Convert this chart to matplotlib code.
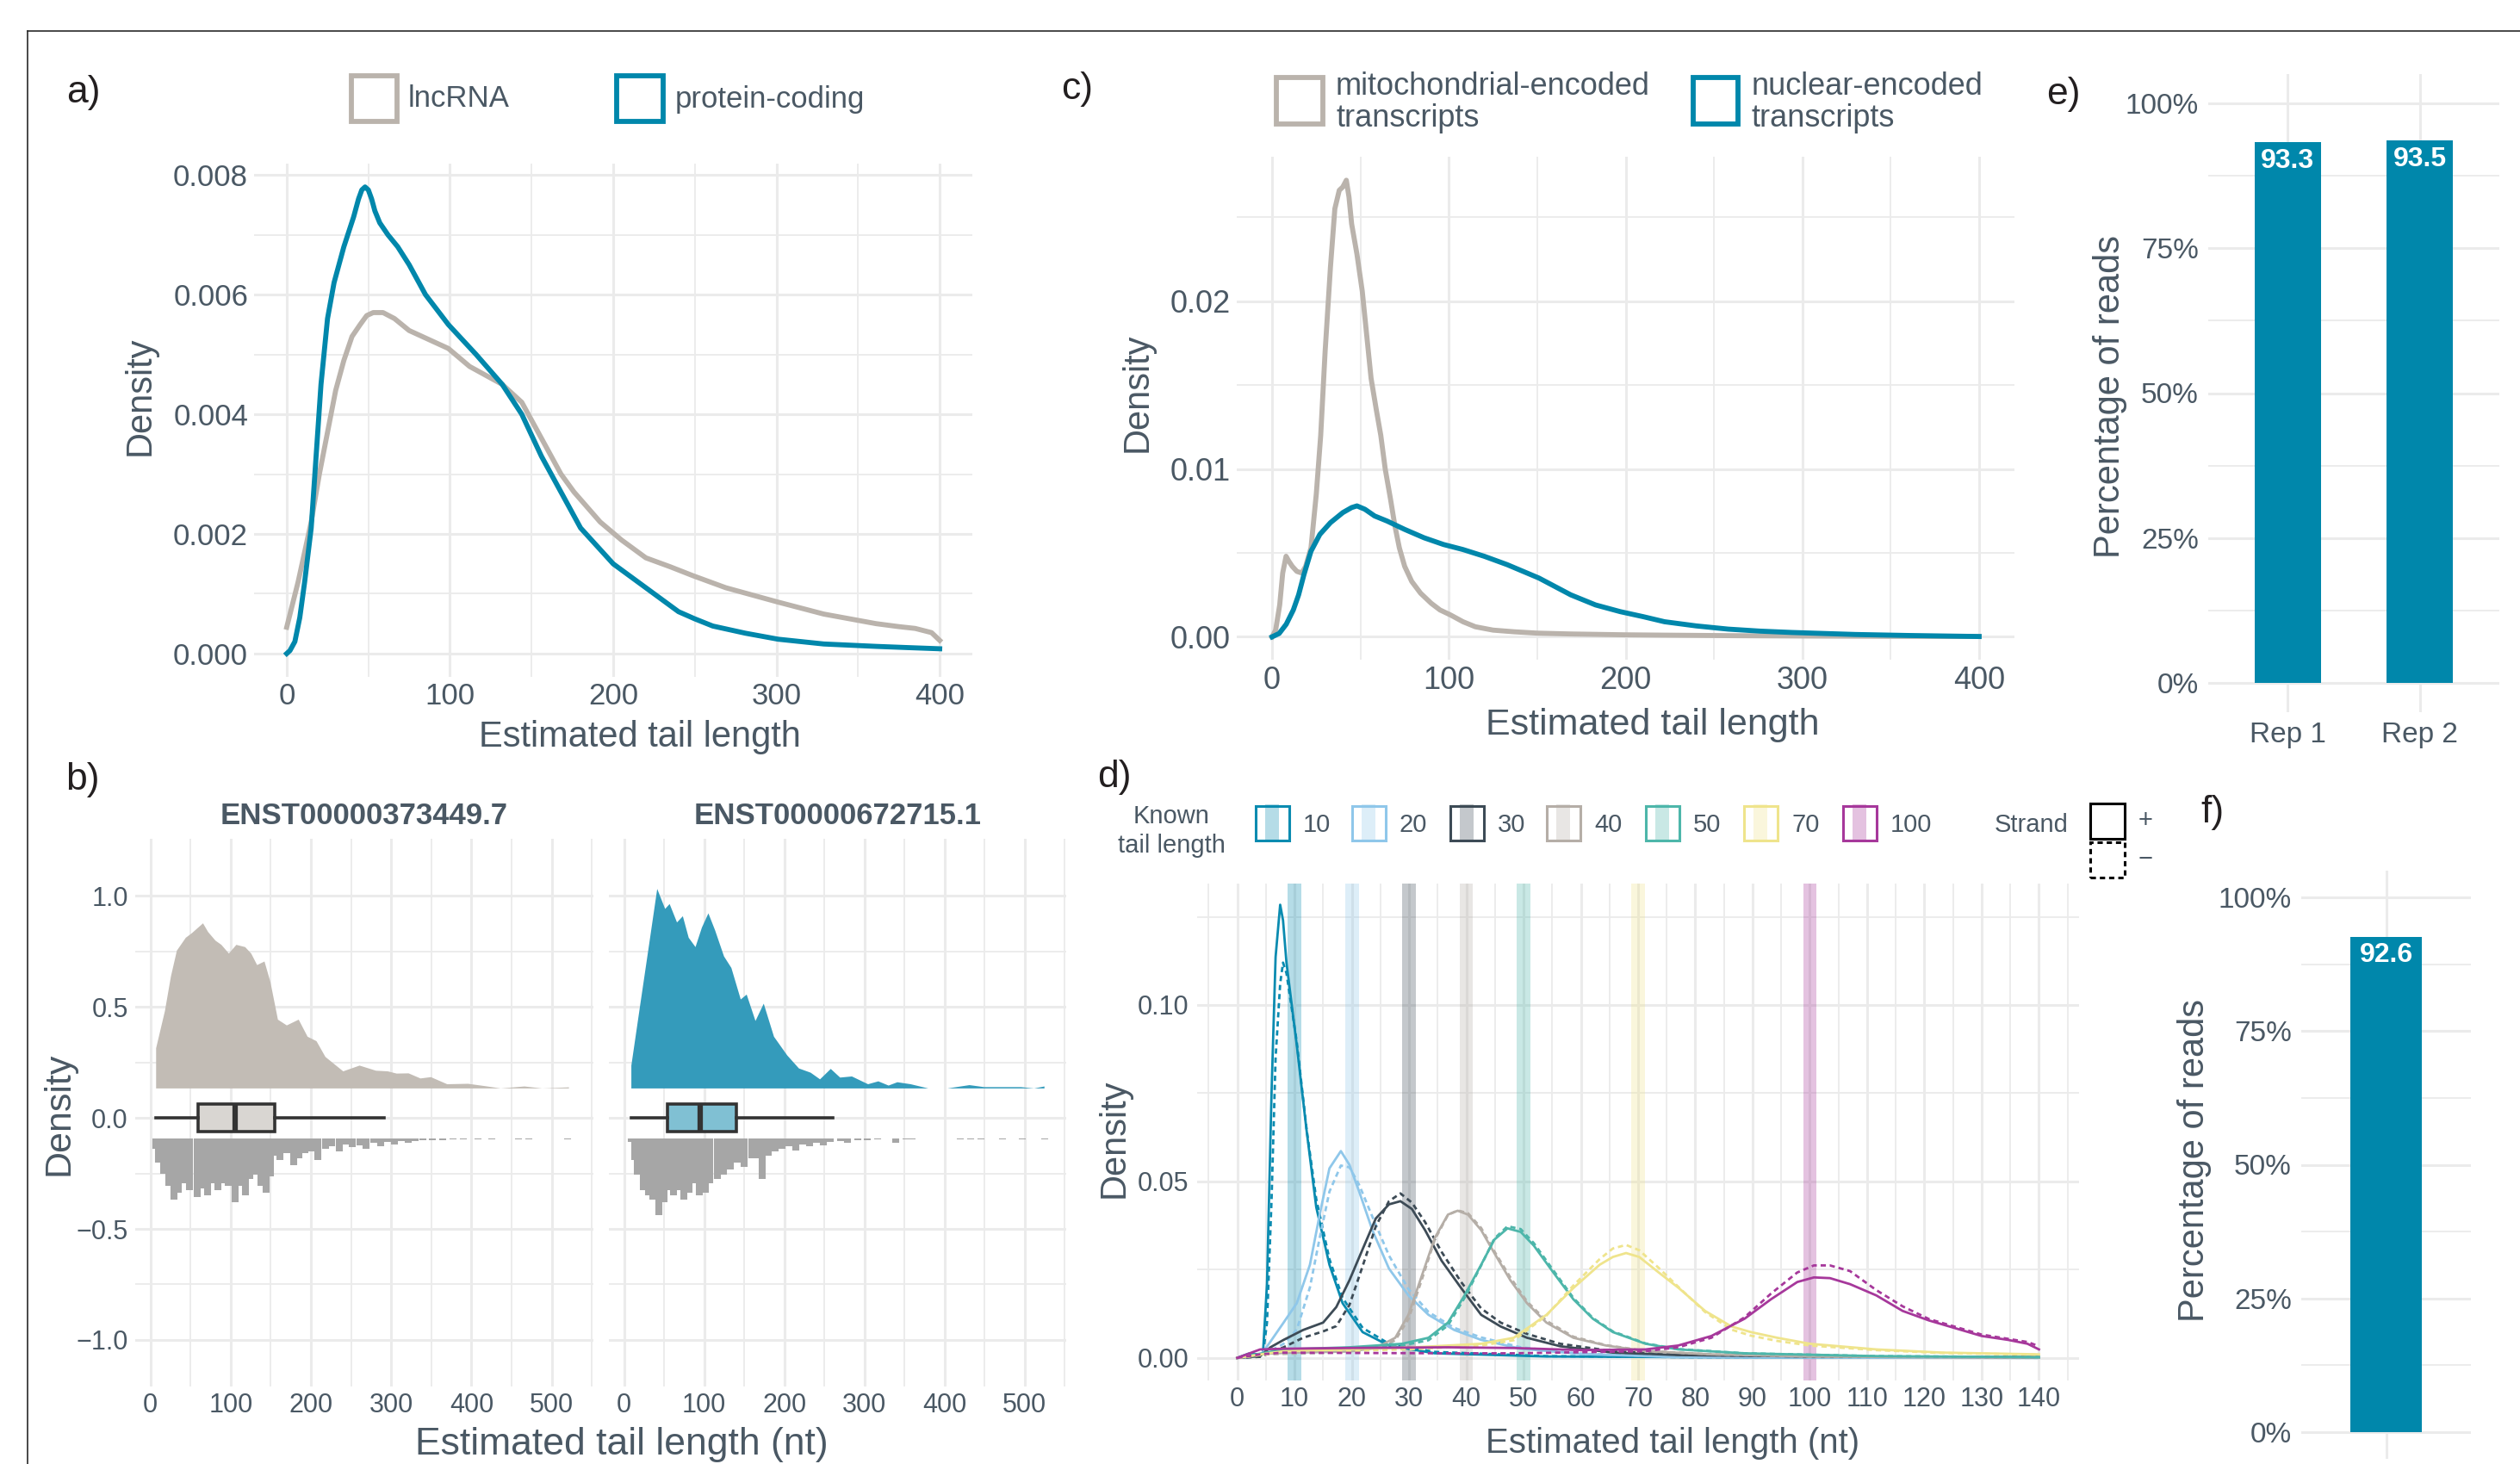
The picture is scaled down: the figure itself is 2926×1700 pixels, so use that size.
import matplotlib
matplotlib.use('Agg')
import matplotlib.pyplot as plt
from matplotlib.patches import Rectangle
from matplotlib.lines import Line2D
from matplotlib.ticker import MultipleLocator, FixedLocator, FuncFormatter

plt.rcParams['font.family'] = ['Liberation Sans', 'DejaVu Sans']

W, H = 2926, 1700
TXT = '#4a5864'
GRID = '#ebebeb'
TEAL = '#0087ab'
GREY = '#bab3ac'

# ---- panel a: lncRNA vs protein-coding
a_x_lnc = [0, 7, 15, 20, 25, 30, 35, 40, 45, 49, 53, 59, 66, 75, 87, 99, 112, 122, 132, 144,
           152, 160, 168, 176, 184, 192, 205, 220, 235, 249, 269, 285, 301, 315, 329, 345,
           361, 375, 385, 395, 400]
a_y_lnc = [0.00044, 0.0012, 0.0022, 0.0030, 0.0037, 0.0044, 0.0049, 0.0053, 0.0055, 0.00565,
           0.0057, 0.0057, 0.0056, 0.0054, 0.00525, 0.0051, 0.0048, 0.00465, 0.0045, 0.0042,
           0.0038, 0.0034, 0.0030, 0.0027, 0.00245, 0.0022, 0.0019, 0.0016, 0.00145, 0.0013,
           0.0011, 0.00098, 0.00086, 0.00076, 0.00066, 0.00058, 0.0005, 0.00045, 0.00042,
           0.00035, 0.00022]
a_x_pc = [0, 2, 5, 8, 11, 15, 18, 21, 25, 29, 35, 41, 44, 46, 48, 50, 52, 54, 57, 62, 68, 75,
          85, 99, 116, 132, 144, 156, 168, 180, 190, 200, 210, 220, 230, 240, 250, 261, 271,
          281, 291, 301, 315, 329, 345, 361, 380, 400]
a_y_pc = [0.0, 0.00005, 0.0002, 0.0006, 0.0012, 0.0021, 0.0033, 0.0045, 0.0056, 0.0062,
          0.0068, 0.0073, 0.0076, 0.00775, 0.0078, 0.00775, 0.0076, 0.0074, 0.0072, 0.0070,
          0.0068, 0.0065, 0.0060, 0.0055, 0.0050, 0.0045, 0.0040, 0.0033, 0.0027, 0.0021,
          0.0018, 0.0015, 0.0013, 0.0011, 0.0009, 0.0007, 0.00058, 0.00046, 0.0004, 0.00034,
          0.00029, 0.00024, 0.0002, 0.00016, 0.00014, 0.00012, 0.0001, 0.00008]

# ---- panel c: mitochondrial vs nuclear
c_x_mito = [0, 2, 4.3, 6, 7.9, 9.5, 11.4, 14, 16.8, 19, 22, 25, 27.5, 30, 33, 35.5, 38, 40, 42,
            43.5, 45, 48, 51, 53.5, 56, 59, 61.5, 64, 67, 69.5, 72, 75, 79, 84, 90, 95, 101,
            108, 115, 125, 137, 150, 169, 200, 222, 260, 300, 350, 400]
c_y_mito = [0.0, 0.0004, 0.0019, 0.0038, 0.0048, 0.0045, 0.0042, 0.0039, 0.0038, 0.0042,
            0.0053, 0.0085, 0.012, 0.017, 0.022, 0.0255, 0.0266, 0.0268, 0.0272, 0.0262,
            0.0246, 0.0228, 0.0206, 0.018, 0.0154, 0.0135, 0.012, 0.010, 0.0082, 0.0066,
            0.0053, 0.0042, 0.0033, 0.0026, 0.0020, 0.0016, 0.0013, 0.0009, 0.0006, 0.0004,
            0.0003, 0.00022, 0.00017, 0.00012, 0.0001, 0.00007, 0.00005, 0.00003, 0.00002]
c_x_nuc = [0, 4, 8, 12, 15, 18, 22, 27, 33, 40, 45, 48, 52.5, 58, 65, 75, 86, 97, 108, 120,
           133, 142, 151, 160, 169, 183, 197, 210, 222, 240, 258, 276, 294, 312, 330, 360, 400]
c_y_nuc = [0.0, 0.0002, 0.00075, 0.0016, 0.0025, 0.0037, 0.0051, 0.0061, 0.0068, 0.0074,
           0.0077, 0.0078, 0.0076, 0.0072, 0.0069, 0.0064, 0.0059, 0.0055, 0.0052, 0.0048,
           0.0043, 0.0039, 0.0035, 0.0030, 0.0025, 0.0019, 0.0015, 0.0012, 0.0009, 0.00065,
           0.00046, 0.00034, 0.00026, 0.0002, 0.00014, 0.00008, 0.00002]

# ---- panel b: two transcripts (density ridge, boxplot, dots)
b_titles = ['ENST00000373449.7', 'ENST00000672715.1']
b1_ridge_x = [6.5, 6.5, 17.5, 25, 32.4, 43.5, 50.9, 65, 71.3, 80.5, 87.9, 97.2, 106.5, 117.5,
              125, 132.4, 141.6, 149, 158.3, 169.4, 184.2, 195.3, 206.4, 217.5, 239.7, 260.1,
              280.4, 295.3, 306.3, 321.2, 336, 349, 369.3, 395.3, 417.4, 436, 465.6, 487.8, 521]
b1_ridge_y = [0.135, 0.316, 0.484, 0.64, 0.756, 0.814, 0.834, 0.879, 0.84, 0.801, 0.782, 0.743,
              0.782, 0.772, 0.743, 0.691, 0.707, 0.614, 0.445, 0.419, 0.445, 0.368, 0.348,
              0.277, 0.212, 0.238, 0.215, 0.212, 0.202, 0.203, 0.18, 0.186, 0.154, 0.156,
              0.145, 0.135, 0.144, 0.135, 0.14]
b2_ridge_x = [8.5, 8.5, 19.5, 30.6, 40.8, 50.7, 56.3, 65.5, 72.8, 80.1, 88.6, 96.6, 104.7,
              113.1, 124.2, 133.4, 145.1, 152.5, 163.5, 173.8, 186.6, 203.1, 217.8, 232.4,
              244.1, 257.5, 269.2, 283.9, 304.1, 316.9, 329.7, 340.7, 357.3, 379.3, 403.2,
              430.7, 449, 471.1, 495, 511.5, 524.3]
b2_ridge_y = [0.135, 0.238, 0.51, 0.782, 1.034, 0.944, 0.966, 0.883, 0.911, 0.814, 0.772,
              0.86, 0.924, 0.847, 0.73, 0.678, 0.536, 0.558, 0.439, 0.517, 0.368, 0.284, 0.225,
              0.206, 0.176, 0.223, 0.184, 0.189, 0.154, 0.167, 0.148, 0.163, 0.154, 0.135,
              0.135, 0.15, 0.141, 0.141, 0.141, 0.135, 0.144]
b_ridge_base = 0.135
b1_box = [6.5, 59, 105, 154.5, 291]      # whislo, q1, med, q3, whishi
b2_box = [8.5, 54.4, 95.5, 139.7, 261]
b1_dot_x = [7, 10, 16, 23, 29, 35, 41, 49, 58, 64, 71, 78, 84, 90, 97, 105, 112, 118, 124, 131,
            138, 144, 149, 153, 161, 170, 179, 185, 192, 200, 209, 218, 226, 235, 244, 252,
            261, 269, 278, 287, 295, 304, 313, 321, 330, 340, 351, 364, 377, 390, 408, 425,
            459, 472, 520]
b1_dot_y = [-0.139, -0.2, -0.25, -0.306, -0.368, -0.337, -0.295, -0.326, -0.358, -0.316,
            -0.347, -0.295, -0.326, -0.295, -0.306, -0.378, -0.306, -0.347, -0.274, -0.254,
            -0.306, -0.337, -0.264, -0.17, -0.191, -0.16, -0.212, -0.181, -0.16, -0.15,
            -0.191, -0.139, -0.129, -0.15, -0.118, -0.133, -0.125, -0.139, -0.112, -0.129,
            -0.108, -0.118, -0.104, -0.112, -0.104, -0.1, -0.1, -0.1, -0.096, -0.096,
            -0.096, -0.096, -0.096, -0.096, -0.096]
b2_dot_x = [8.6, 13, 17, 24, 30, 36, 43, 50, 56, 62, 69, 75, 81, 87, 94, 101, 107, 116, 124,
            133, 141, 150, 159, 167, 172, 180, 189, 197, 206, 214, 223, 232, 240, 249, 257,
            270, 279, 292, 304, 317, 339, 352, 360, 420, 433, 446, 472, 497, 525]
b2_dot_y = [-0.108, -0.191, -0.254, -0.326, -0.347, -0.368, -0.437, -0.378, -0.326, -0.347,
            -0.326, -0.368, -0.337, -0.295, -0.347, -0.337, -0.295, -0.274, -0.254, -0.233,
            -0.2, -0.222, -0.181, -0.181, -0.274, -0.17, -0.15, -0.139, -0.129, -0.146,
            -0.118, -0.129, -0.112, -0.125, -0.108, -0.104, -0.112, -0.1, -0.1, -0.096,
            -0.112, -0.096, -0.096, -0.096, -0.096, -0.096, -0.096, -0.096, -0.096]
b_dot_top = -0.091

# ---- panel d: known tail lengths, + strand (solid) and - strand (dashed)
known_lengths = [10, 20, 30, 40, 50, 70, 100]
known_colors = ['#0a8bb0', '#8fc7ea', '#3d4b56', '#b5aea7', '#4db6aa', '#efe48c', '#a6389b']
k10_x = [0, 2, 4, 4.5, 5.2, 6.0, 6.7, 7.5, 8.0, 8.6, 10.4, 12.1, 13.8, 16.1, 18.4, 21.9, 26.5,
         34.5, 54, 80, 110, 140]
k10_plus = [0, 0.0012, 0.0010, 0.0013, 0.021, 0.0755, 0.1136, 0.1284, 0.124, 0.112, 0.0886,
            0.0646, 0.0427, 0.0264, 0.0155, 0.0073, 0.0035, 0.0013, 0.0004, 0.0002, 0.0001,
            0.0001]
k10_minus = [0, 0.0008, 0.0008, 0.0010, 0.010, 0.045, 0.085, 0.106, 0.112, 0.109, 0.0895,
             0.0650, 0.0450, 0.0280, 0.0170, 0.0085, 0.0040, 0.0017, 0.0005, 0.0002, 0.0001,
             0.0001]
k20_x = [0, 4, 5.8, 8.1, 10.4, 12.7, 14.4, 16.1, 18.1, 19.6, 21.3, 23.6, 26.5, 29.9, 33.4,
         37.9, 42.6, 49.5, 60, 77, 100, 140]
k20_plus = [0, 0.0005, 0.0046, 0.010, 0.0155, 0.0264, 0.0406, 0.0537, 0.0586, 0.0547, 0.0471,
            0.0362, 0.0253, 0.0177, 0.0122, 0.0079, 0.0051, 0.0026, 0.0011, 0.0002, 0.0001, 0]
k20_minus = [0, 0.0004, 0.002, 0.004, 0.008, 0.020, 0.0340, 0.0471, 0.0545, 0.0540, 0.0490,
             0.0400, 0.0290, 0.0195, 0.0130, 0.0085, 0.0058, 0.0030, 0.0012, 0.0003, 0.0001, 0]
k30_x = [0, 4, 5.8, 8.1, 11.5, 15, 17.3, 19.6, 21.9, 24.2, 26.5, 28.5, 30.5, 32.8, 35.7, 39.1,
         42.6, 46, 50.6, 56.4, 65.6, 77, 100, 140]
k30_plus = [0, 0.0005, 0.003, 0.0051, 0.0079, 0.010, 0.0144, 0.022, 0.0308, 0.0395, 0.0435,
            0.0444, 0.0422, 0.0362, 0.0275, 0.0198, 0.0122, 0.0089, 0.0057, 0.0033, 0.0015,
            0.0008, 0.0004, 0.0002]
k30_minus = [0, 0.0003, 0.0015, 0.003, 0.0057, 0.0075, 0.0090, 0.0150, 0.0260, 0.0373, 0.0444,
             0.0466, 0.0440, 0.0385, 0.0300, 0.0215, 0.0140, 0.0100, 0.0068, 0.0040, 0.0019,
             0.0009, 0.0004, 0.0002]
k40_x = [0, 5, 10, 19.6, 24.2, 27.6, 29.9, 32.2, 34.5, 36.8, 38.5, 40.3, 42.6, 44.9, 47.7,
         50.6, 54, 58.7, 64.4, 71.3, 82.8, 100, 120, 140]
k40_plus = [0, 0.0012, 0.0015, 0.0018, 0.0028, 0.0057, 0.0122, 0.0231, 0.034, 0.0406, 0.0417,
            0.0406, 0.0362, 0.0297, 0.022, 0.0155, 0.010, 0.0057, 0.0035, 0.0019, 0.001,
            0.0004, 0.0002, 0.0001]
k40_minus = [0, 0.0010, 0.0012, 0.0016, 0.0025, 0.0050, 0.0110, 0.0220, 0.0335, 0.0405,
             0.0418, 0.0410, 0.0368, 0.0302, 0.0228, 0.0160, 0.0105, 0.0060, 0.0036, 0.0020,
             0.0010, 0.0004, 0.0002, 0.0001]
k50_x = [0, 5, 8.1, 19.6, 28.8, 33.4, 36.8, 39.7, 42.6, 44.9, 47.2, 49.5, 51.8, 55.2, 58.7,
         62.1, 65.6, 71.3, 77, 88.6, 111.6, 140]
k50_plus = [0, 0.0015, 0.0024, 0.003, 0.004, 0.0057, 0.010, 0.0177, 0.0264, 0.0335, 0.0367,
            0.0357, 0.0318, 0.0242, 0.0166, 0.0111, 0.0073, 0.004, 0.0024, 0.0013, 0.0005,
            0.0002]
k50_minus = [0, 0.0012, 0.0020, 0.0026, 0.0035, 0.0050, 0.0092, 0.0170, 0.0262, 0.0338,
             0.0373, 0.0365, 0.0325, 0.0248, 0.0170, 0.0113, 0.0075, 0.0041, 0.0025, 0.0013,
             0.0005, 0.0002]
k70_x = [0, 5, 8.1, 31, 42.6, 48.3, 54, 58.7, 63.3, 65.6, 67.9, 70.2, 73.6, 77.1, 81.7, 86.3,
         89.7, 94.3, 100, 111.6, 123, 140]
k70_plus = [0, 0.0012, 0.0019, 0.003, 0.004, 0.0057, 0.0122, 0.0198, 0.0264, 0.0286, 0.0297,
            0.0286, 0.0242, 0.0198, 0.0133, 0.0089, 0.0073, 0.0057, 0.004, 0.0024, 0.0015,
            0.001]
k70_minus = [0, 0.0010, 0.0015, 0.0025, 0.0035, 0.0050, 0.0120, 0.0205, 0.0280, 0.0310,
             0.0320, 0.0305, 0.0255, 0.0200, 0.0130, 0.0080, 0.0063, 0.0048, 0.0035, 0.0022,
             0.0014, 0.0009]
k100_x = [0, 4, 8.1, 19.6, 36.8, 48.3, 60, 71.3, 77, 82.8, 88.6, 93.2, 97.8, 100.7, 103.5,
          107, 111.6, 116.2, 120.8, 125.4, 130, 134.6, 138, 140]
k100_plus = [0, 0.0024, 0.0026, 0.0028, 0.003, 0.0028, 0.0022, 0.0024, 0.0035, 0.0062,
             0.0111, 0.0166, 0.0215, 0.0228, 0.0226, 0.0209, 0.0177, 0.0133, 0.0106, 0.0084,
             0.0062, 0.0051, 0.004, 0.0024]
k100_minus = [0, 0.0010, 0.0015, 0.0014, 0.0013, 0.0013, 0.0016, 0.0019, 0.0030, 0.0057,
              0.0115, 0.0182, 0.0242, 0.0262, 0.0262, 0.0246, 0.0192, 0.0146, 0.0110, 0.0088,
              0.0066, 0.0054, 0.0045, 0.0033]

# ---- panels e, f: percentage of reads
e_reps = ['Rep 1', 'Rep 2']
e_pct = [93.3, 93.5]
f_pct = [92.6]


fig = plt.figure(figsize=(W / 100, H / 100), dpi=100)


def axes_px(x0, y0, x1, y1):
    return fig.add_axes([x0 / W, 1 - y1 / H, (x1 - x0) / W, (y1 - y0) / H])


def ftext(x, y, s, **kw):
    kw.setdefault('color', TXT)
    return fig.text(x / W, 1 - y / H, s, **kw)


def frect(x0, y0, x1, y1, **kw):
    r = Rectangle((x0 / W, 1 - y1 / H), (x1 - x0) / W, (y1 - y0) / H,
                  transform=fig.transFigure, **kw)
    fig.add_artist(r)
    return r


def minimal(ax, fs, pad_x, pad_y):
    for s in ax.spines.values():
        s.set_visible(False)
    ax.tick_params(which='both', length=0, labelsize=fs, labelcolor=TXT)
    ax.tick_params(axis='x', pad=pad_x)
    ax.tick_params(axis='y', pad=pad_y)
    ax.grid(True, which='major', color=GRID, lw=2.2)
    ax.grid(True, which='minor', color=GRID, lw=1.3)
    ax.set_axisbelow(True)


# frame around the figure
fig.add_artist(Line2D([32 / W, 32 / W], [0, 1 - 36 / H], transform=fig.transFigure,
                      color='#2a2a2a', lw=1.2))
fig.add_artist(Line2D([32 / W, 1], [1 - 36 / H, 1 - 36 / H], transform=fig.transFigure,
                      color='#2a2a2a', lw=1.2))

# ================= panel a
ax = axes_px(295, 190, 1129, 786)
ax.plot(a_x_lnc, a_y_lnc, color=GREY, lw=4.2, solid_joinstyle='round')
ax.plot(a_x_pc, a_y_pc, color=TEAL, lw=4.2, solid_joinstyle='round')
ax.set_xlim(-20, 420)
ax.set_ylim(-0.00039, 0.00819)
ax.xaxis.set_major_locator(MultipleLocator(100))
ax.xaxis.set_minor_locator(MultipleLocator(50))
ax.yaxis.set_major_locator(MultipleLocator(0.002))
ax.yaxis.set_minor_locator(MultipleLocator(0.001))
ax.yaxis.set_major_formatter(FuncFormatter(lambda v, p: f'{v:.3f}'))
minimal(ax, 25, 4, 5)
ax.set_xlabel('Estimated tail length', fontsize=30, color=TXT, va='center')
ax.xaxis.set_label_coords(0.537, -0.1174)
ax.set_ylabel('Density', fontsize=30, color=TXT, va='center')
ax.yaxis.set_label_coords(-0.1583, 0.547)

ftext(97, 107, 'a)', fontsize=32, color='#231f20', ha='center', va='center')
frect(408, 88, 461, 141, fill=False, edgecolor=GREY, lw=4.2)
ftext(474, 115, 'lncRNA', fontsize=25, va='center')
frect(716, 88, 770, 141, fill=False, edgecolor=TEAL, lw=4.2)
ftext(784, 115, 'protein-coding', fontsize=25, va='center')

# ================= panel c
ax = axes_px(1436, 182, 2339, 766)
ax.plot(c_x_mito, c_y_mito, color=GREY, lw=4.2, solid_joinstyle='round')
ax.plot(c_x_nuc, c_y_nuc, color=TEAL, lw=4.2, solid_joinstyle='round')
ax.set_xlim(-20, 420)
ax.set_ylim(-0.00136, 0.0286)
ax.xaxis.set_major_locator(MultipleLocator(100))
ax.xaxis.set_minor_locator(MultipleLocator(50))
ax.yaxis.set_major_locator(MultipleLocator(0.01))
ax.yaxis.set_minor_locator(MultipleLocator(0.005))
ax.yaxis.set_major_formatter(FuncFormatter(lambda v, p: f'{v:.2f}'))
minimal(ax, 26, 5, 5)
ax.set_xlabel('Estimated tail length', fontsize=31, color=TXT, va='center')
ax.xaxis.set_label_coords(0.535, -0.130)
ax.set_ylabel('Density', fontsize=30, color=TXT, va='center')
ax.yaxis.set_label_coords(-0.1274, 0.531)

ftext(1251, 104, 'c)', fontsize=32, color='#231f20', ha='center', va='center')
frect(1482, 90, 1536, 144, fill=False, edgecolor=GREY, lw=4.2)
ftext(1551, 119, 'mitochondrial-encoded\ntranscripts', fontsize=26, va='center',
      linespacing=1.1)
frect(1966, 90, 2018, 144, fill=False, edgecolor=TEAL, lw=4.2)
ftext(2034, 119, 'nuclear-encoded\ntranscripts', fontsize=26, va='center', linespacing=1.1)

# ================= panel e
ax = axes_px(2564, 86, 2902, 827)
ax.bar(e_reps, e_pct, width=0.5, color=TEAL)
for i, v in enumerate(e_pct):
    ax.text(i, v - 1.0, f'{v}', ha='center', va='top', color='white', fontsize=23,
            fontweight='bold')
ax.set_xlim(-0.6, 1.6)
ax.set_ylim(-5, 105)
ax.yaxis.set_major_locator(FixedLocator([0, 25, 50, 75, 100]))
ax.yaxis.set_minor_locator(FixedLocator([12.5, 37.5, 62.5, 87.5]))
ax.yaxis.set_major_formatter(FuncFormatter(lambda v, p: f'{v:.0f}%'))
minimal(ax, 24, 8, 8)
ax.set_ylabel('Percentage of reads', fontsize=30, color=TXT, va='center')
ax.yaxis.set_label_coords(-0.337, 0.494)
ftext(2396, 109, 'e)', fontsize=32, color='#231f20', ha='center', va='center')

# ================= panel f
ax = axes_px(2672, 1011, 2869, 1694)
ax.bar([0], f_pct, width=0.5, color=TEAL)
ax.text(0, f_pct[0] - 1.0, f'{f_pct[0]}', ha='center', va='top', color='white',
        fontsize=23, fontweight='bold')
ax.set_xlim(-0.6, 0.6)
ax.set_ylim(-5, 105)
ax.set_xticks([0])
ax.set_xticklabels([''])
ax.yaxis.set_major_locator(FixedLocator([0, 25, 50, 75, 100]))
ax.yaxis.set_minor_locator(FixedLocator([12.5, 37.5, 62.5, 87.5]))
ax.yaxis.set_major_formatter(FuncFormatter(lambda v, p: f'{v:.0f}%'))
minimal(ax, 24, 8, 8)
ax.set_ylabel('Percentage of reads', fontsize=30, color=TXT, va='center')
ax.yaxis.set_label_coords(-0.629, 0.507)
ftext(2569, 943, 'f)', fontsize=32, color='#231f20', ha='center', va='center')

# ================= panel b
b_sets = [
    (157, 689, b1_ridge_x, b1_ridge_y, b1_box, b1_dot_x, b1_dot_y, '#c2bcb5', '#d9d6d2'),
    (707, 1238, b2_ridge_x, b2_ridge_y, b2_box, b2_dot_x, b2_dot_y, '#349bbb', '#80c0d3'),
]
for k, (x0, x1, rx, ry, bx, dx, dy, fill_c, box_c) in enumerate(b_sets):
    ax = axes_px(x0, 974, x1, 1610)
    ax.fill_between(rx, b_ridge_base, ry, color=fill_c, lw=0)
    ax.vlines(dx, b_dot_top, dy, color='#a6a6a6', lw=5.8)
    stats = [dict(whislo=bx[0], q1=bx[1], med=bx[2], q3=bx[3], whishi=bx[4], fliers=[])]
    ax.bxp(stats, positions=[0], widths=0.122, vert=False, patch_artist=True,
           showcaps=False, showfliers=False,
           boxprops=dict(facecolor=box_c, edgecolor='#333333', lw=2.6),
           whiskerprops=dict(color='#333333', lw=2.6),
           medianprops=dict(color='#333333', lw=4.5))
    ax.set_xlim(-19, 552)
    ax.set_ylim(-1.21, 1.258)
    ax.xaxis.set_major_locator(MultipleLocator(100))
    ax.xaxis.set_minor_locator(MultipleLocator(50))
    ax.yaxis.set_major_locator(FixedLocator([-1.0, -0.5, 0.0, 0.5, 1.0]))
    ax.yaxis.set_minor_locator(FixedLocator([-0.75, -0.25, 0.25, 0.75]))
    ax.set_xticks([0, 100, 200, 300, 400, 500])
    ax.set_xticklabels(['0', '100', '200', '300', '400', '500'])
    if k == 0:
        ax.set_yticks([-1.0, -0.5, 0.0, 0.5, 1.0])
        ax.set_yticklabels(['\u22121.0', '\u22120.5', '0.0', '0.5', '1.0'])
        ax.set_ylabel('Density', fontsize=31, color=TXT, va='center')
        ax.yaxis.set_label_coords(-0.167, 0.498)
    else:
        ax.set_yticks([-1.0, -0.5, 0.0, 0.5, 1.0])
        ax.set_yticklabels([])
    minimal(ax, 22, 5, 6)
    ax.text(0.5, 1.041, b_titles[k], transform=ax.transAxes, ha='center', va='center',
            fontsize=25, fontweight='bold', color=TXT)
ftext(722, 1677, 'Estimated tail length (nt)', fontsize=32, ha='center', va='center')
ftext(96, 906, 'b)', fontsize=32, color='#231f20', ha='center', va='center')

# ================= panel d
ax = axes_px(1390, 1026, 2414, 1603)
d_x = [k10_x, k20_x, k30_x, k40_x, k50_x, k70_x, k100_x]
d_plus = [k10_plus, k20_plus, k30_plus, k40_plus, k50_plus, k70_plus, k100_plus]
d_minus = [k10_minus, k20_minus, k30_minus, k40_minus, k50_minus, k70_minus, k100_minus]
for kl, c in zip(known_lengths, known_colors):
    ax.axvspan(kl - 1.2, kl + 1.2, color=c, alpha=0.3, lw=0)
for xs, yp, ym, c in zip(d_x, d_plus, d_minus, known_colors):
    ax.plot(xs, ym, color=c, lw=2.0, ls=(0, (2.2, 1.6)))
    ax.plot(xs, yp, color=c, lw=2.0, solid_joinstyle='round')
ax.set_xlim(-7, 147)
ax.set_ylim(-0.0064, 0.1344)
ax.xaxis.set_major_locator(MultipleLocator(10))
ax.xaxis.set_minor_locator(MultipleLocator(5))
ax.yaxis.set_major_locator(MultipleLocator(0.05))
ax.yaxis.set_minor_locator(MultipleLocator(0.025))
ax.yaxis.set_major_formatter(FuncFormatter(lambda v, p: f'{v:.2f}'))
minimal(ax, 22, 5, 7)
ax.set_xlabel('Estimated tail length (nt)', fontsize=29, color=TXT, va='center')
ax.xaxis.set_label_coords(0.539, -0.1265)
ax.set_ylabel('Density', fontsize=30, color=TXT, va='center')
ax.yaxis.set_label_coords(-0.094, 0.487)

ftext(1294, 903, 'd)', fontsize=32, color='#231f20', ha='center', va='center')
ftext(1360, 965, 'Known\ntail length', fontsize=21, ha='center', va='center',
      linespacing=1.25)
key_x0 = [1456, 1568, 1682, 1794, 1909, 2023, 2138]
for kl, c, kx in zip(known_lengths, known_colors, key_x0):
    frect(kx + 13, 934, kx + 29, 977, facecolor=c, alpha=0.3, lw=0)
    frect(kx + 1.5, 935.5, kx + 40.5, 975.5, fill=False, edgecolor=c, lw=2.2)
    ftext(kx + 57, 958, str(kl), fontsize=21, va='center')
ftext(2316, 958, 'Strand', fontsize=21, va='center')
frect(2427, 933, 2467, 974, fill=False, edgecolor='black', lw=2.2)
frect(2427, 978, 2467, 1019, fill=False, edgecolor='black', lw=2.2, ls=(0, (2, 1.5)))
ftext(2491, 953, '+', fontsize=21, ha='center', va='center')
ftext(2491, 998, '\u2212', fontsize=21, ha='center', va='center')

fig.savefig('out.png', dpi=100)
